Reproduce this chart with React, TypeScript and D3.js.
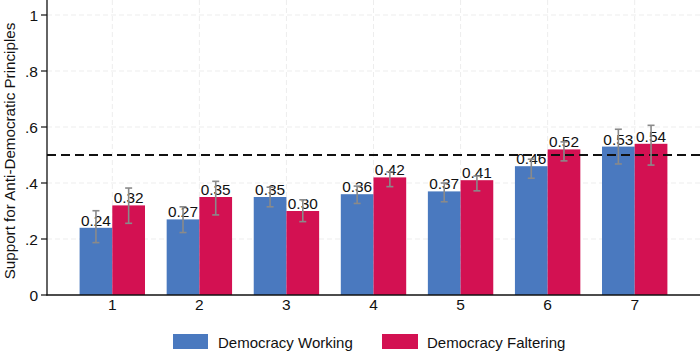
import React from "react";
import * as d3 from "d3";

// Support for anti-democratic principles by group (1–7), two conditions
const categories = [1, 2, 3, 4, 5, 6, 7];
const workingValues = [0.24, 0.27, 0.35, 0.36, 0.37, 0.46, 0.53];
const falteringValues = [0.32, 0.35, 0.30, 0.42, 0.41, 0.52, 0.54];
const workingLow = [0.187, 0.223, 0.315, 0.327, 0.333, 0.417, 0.468];
const workingHigh = [0.301, 0.315, 0.385, 0.389, 0.40, 0.485, 0.592];
const falteringLow = [0.256, 0.286, 0.262, 0.387, 0.372, 0.479, 0.464];
const falteringHigh = [0.382, 0.406, 0.34, 0.44, 0.425, 0.547, 0.606];
const yTicks = [0, 0.2, 0.4, 0.6, 0.8, 1];
const yTickLabels = ["0", ".2", ".4", ".6", ".8", "1"];
const referenceLine = 0.5;
const seriesNames = ["Democracy Working", "Democracy Faltering"];

const W = 700;
const H = 356;
const BLUE = "#4a79bf";
const RED = "#d31152";
const FONT = "'Liberation Sans', Arial, Helvetica, sans-serif";

export default function App() {
  const x = d3.scaleLinear().domain([0.25, 7.75]).range([47, 700]);
  const y = d3.scaleLinear().domain([0, 1]).range([295, 15]);
  const barW = 32.7;

  const series = [
    { values: workingValues, low: workingLow, high: workingHigh, color: BLUE, offset: -1 },
    { values: falteringValues, low: falteringLow, high: falteringHigh, color: RED, offset: 0 },
  ];

  return (
    <svg
      width={W}
      height={H}
      style={{ position: "absolute", left: 0, top: 0, background: "#fff" }}
      fontFamily={FONT}
    >
      {/* gridlines */}
      {yTicks.slice(1).map((t) => (
        <line key={"gy" + t} x1={47} x2={700} y1={y(t)} y2={y(t)} stroke="#ededed" strokeWidth={1} strokeDasharray="5,3" />
      ))}
      {categories.map((c) => (
        <line key={"gx" + c} x1={x(c)} x2={x(c)} y1={0} y2={295} stroke="#ededed" strokeWidth={1} strokeDasharray="5,3" />
      ))}

      {/* bars */}
      {series.map((s, si) =>
        categories.map((c, i) => (
          <rect
            key={"b" + si + c}
            x={x(c) + s.offset * barW}
            y={y(s.values[i])}
            width={barW}
            height={y(0) - y(s.values[i])}
            fill={s.color}
          />
        ))
      )}

      {/* reference line */}
      <line x1={47} x2={700} y1={y(referenceLine)} y2={y(referenceLine)} stroke="#111" strokeWidth={2} strokeDasharray="9,5" />

      {/* value labels */}
      {series.map((s, si) =>
        categories.map((c, i) => (
          <text
            key={"l" + si + c}
            x={x(c) + s.offset * barW + barW / 2}
            y={y(s.values[i]) - 2}
            textAnchor="middle"
            fontSize={15.4}
            fill="#111"
          >
            {s.values[i].toFixed(2)}
          </text>
        ))
      )}

      {/* confidence intervals */}
      {series.map((s, si) =>
        categories.map((c, i) => {
          const cx = x(c) + s.offset * barW + barW / 2;
          return (
            <g key={"e" + si + c} stroke="#8a8a8a" strokeWidth={1.6}>
              <line x1={cx} x2={cx} y1={y(s.low[i])} y2={y(s.high[i])} />
              <line x1={cx - 3.5} x2={cx + 3.5} y1={y(s.low[i])} y2={y(s.low[i])} />
              <line x1={cx - 3.5} x2={cx + 3.5} y1={y(s.high[i])} y2={y(s.high[i])} />
            </g>
          );
        })
      )}

      {/* axes */}
      <line x1={47} x2={47} y1={0} y2={295.5} stroke="#111" strokeWidth={1.3} />
      <line x1={46.5} x2={700} y1={295} y2={295} stroke="#111" strokeWidth={1.3} />
      {yTicks.map((t, i) => (
        <g key={"yt" + t}>
          <line x1={41} x2={47} y1={y(t)} y2={y(t)} stroke="#111" strokeWidth={1.2} />
          <text x={38} y={y(t) + 5.5} textAnchor="end" fontSize={15.5} fill="#111">
            {yTickLabels[i]}
          </text>
        </g>
      ))}
      {categories.map((c) => (
        <text key={"xt" + c} x={x(c)} y={310} textAnchor="middle" fontSize={15.5} fill="#111">
          {c}
        </text>
      ))}
      <text
        transform={`translate(15,${y(0.5) - 4}) rotate(-90)`}
        textAnchor="middle"
        fontSize={15.2}
        fill="#111"
      >
        Support for Anti-Democratic Principles
      </text>

      {/* legend */}
      <rect x={173} y={334} width={35} height={15} fill={BLUE} />
      <text x={218} y={347.5} fontSize={15} fill="#111">{seriesNames[0]}</text>
      <rect x={382} y={334} width={36} height={15} fill={RED} />
      <text x={427} y={347.5} fontSize={15} fill="#111">{seriesNames[1]}</text>
    </svg>
  );
}
